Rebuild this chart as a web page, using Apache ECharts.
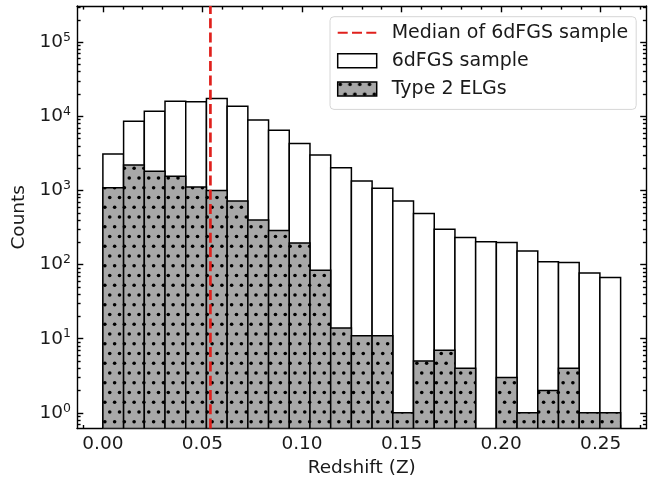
<!DOCTYPE html>
<html>
<head>
<meta charset="utf-8">
<script src="https://cdn.jsdelivr.net/npm/echarts@6/dist/echarts.min.js"></script>
<style>
  html, body { margin: 0; padding: 0; background: #fff; }
  #chart { width: 660px; height: 483px; }
</style>
</head>
<body>
<div id="chart"></div>
<script>
// ---- data ----
const BIN_EDGES = [0, 0.0104, 0.0208, 0.0312, 0.0416, 0.052, 0.0624, 0.0728, 0.0832, 0.0936,
  0.104, 0.1144, 0.1248, 0.1352, 0.1456, 0.156, 0.1664, 0.1768, 0.1872, 0.1976,
  0.208, 0.2184, 0.2288, 0.2392, 0.2496, 0.26];
const SAMPLE_COUNTS = [3100, 8600, 11700, 16000, 15700, 17400, 13700, 8900, 6500, 4300,
  3000, 2030, 1340, 1070, 720, 490, 300, 232, 204, 198, 153, 109, 107, 77, 67];
const ELG_COUNTS = [1090, 2200, 1820, 1560, 1110, 1000, 720, 400, 288, 196,
  84, 14, 11, 11, 1, 5, 7, 4, 0, 3, 1, 2, 4, 1, 1];
const MEDIAN_Z = 0.054;
const X_TICKS = [0, 0.05, 0.10, 0.15, 0.20, 0.25];
const X_TICK_LABELS = ['0.00', '0.05', '0.10', '0.15', '0.20', '0.25'];
const Y_TICK_EXPONENTS = [0, 1, 2, 3, 4, 5];
const SERIES_NAMES = ['Median of 6dFGS sample', '6dFGS sample', 'Type 2 ELGs'];

// ---- axis ranges ----
const XMIN = -0.013, XMAX = 0.273;
const YMIN = 0.613, YMAX = 3.08e5;
const LYMIN = Math.log10(YMIN), LYMAX = Math.log10(YMAX);

const X_MINOR = [];
for (let i = -1; i <= 27; i++) { if (i % 5 !== 0) X_MINOR.push(i / 100); }
const Y_MINOR = [];
for (let e = -1; e <= 5; e++) for (let k = 2; k <= 9; k++) {
  const v = Math.log10(k * Math.pow(10, e));
  if (v > LYMIN && v < LYMAX) Y_MINOR.push(v);
}

const FONT = 'DejaVu Sans';
const TXT = '#1a1a1a';
const RED = '#e0201c';
const GRAY = '#a8a8a8';

// dotted hatch pattern
const pat = document.createElement('canvas');
pat.width = 39; pat.height = 39;
(function () {
  const c = pat.getContext('2d');
  c.fillStyle = GRAY; c.fillRect(0, 0, 39, 39);
  c.fillStyle = '#000';
  const d = 9.75;
  for (let r = 0; r < 4; r++) for (let col = 0; col < 4; col++) {
    const x = col * d + (r % 2) * d / 2 + 2.5;
    const y = r * d + 2.5;
    c.beginPath(); c.arc(x, y, 1.8, 0, Math.PI * 2); c.fill();
  }
})();
const PATTERN = { image: pat, repeat: 'repeat' };

function binRows(counts) {
  return counts.map((c, i) => [BIN_EDGES[i], BIN_EDGES[i + 1], c]);
}
function makeRender(fill) {
  return function (params, api) {
    const c = api.value(2);
    if (!(c > 0)) return null;
    const p0 = api.coord([api.value(0), c]);
    const p1 = api.coord([api.value(1), YMIN]);
    return {
      type: 'rect',
      shape: { x: p0[0], y: p0[1], width: p1[0] - p0[0], height: p1[1] - p0[1] },
      style: { fill: fill, stroke: '#000', lineWidth: 1.5 }
    };
  };
}

const lineAx = { show: true, onZero: false, lineStyle: { color: '#000', width: 1.4 } };
const noLine = { show: false, onZero: false };
function tick(len, vals) {
  return { show: true, inside: true, length: len, customValues: vals, lineStyle: { color: '#000', width: 1.4 } };
}
const noLabel = { show: false };
const noSplit = { show: false };

const xBase = { type: 'value', min: XMIN, max: XMAX, splitLine: noSplit, silent: true };
const yLin = { type: 'value', min: LYMIN, max: LYMAX, splitLine: noSplit, silent: true };

const option = {
  animation: false,
  grid: { left: 77, right: 13.5, top: 6, bottom: 53, containLabel: false },
  xAxis: [
    Object.assign({}, xBase, {
      position: 'bottom', axisLine: lineAx, axisTick: tick(6.3, X_TICKS),
      axisLabel: {
        customValues: X_TICKS, margin: 6.5, fontSize: 18.5, fontFamily: FONT, color: TXT,
        formatter: v => X_TICK_LABELS[X_TICKS.findIndex(t => Math.abs(t - v) < 1e-6)]
      },
      name: 'Redshift (Z)', nameLocation: 'middle', nameGap: 30,
      nameTextStyle: { fontSize: 18.5, fontFamily: FONT, color: TXT }
    }),
    Object.assign({}, xBase, { position: 'bottom', axisLine: noLine, axisTick: tick(3.6, X_MINOR), axisLabel: noLabel }),
    Object.assign({}, xBase, { position: 'top', axisLine: lineAx, axisTick: tick(6.3, X_TICKS), axisLabel: noLabel }),
    Object.assign({}, xBase, { position: 'top', axisLine: noLine, axisTick: tick(3.6, X_MINOR), axisLabel: noLabel })
  ],
  yAxis: [
    { type: 'log', logBase: 10, min: YMIN, max: YMAX, show: false, splitLine: noSplit },
    Object.assign({}, yLin, {
      position: 'left', axisLine: lineAx, axisTick: tick(6.3, Y_TICK_EXPONENTS),
      axisLabel: {
        customValues: Y_TICK_EXPONENTS, margin: 6, color: TXT,
        formatter: v => '{b|10}{s|' + Math.round(v) + '}',
        rich: {
          b: { fontSize: 18.5, fontFamily: FONT, color: TXT, lineHeight: 22 },
          s: { fontSize: 12.5, fontFamily: FONT, color: TXT, lineHeight: 12, verticalAlign: 'top' }
        }
      },
      name: 'Counts', nameLocation: 'middle', nameGap: 42, nameRotate: 90,
      nameTextStyle: { fontSize: 18.5, fontFamily: FONT, color: TXT }
    }),
    Object.assign({}, yLin, { position: 'left', axisLine: noLine, axisTick: tick(3.6, Y_MINOR), axisLabel: noLabel }),
    Object.assign({}, yLin, { position: 'right', axisLine: lineAx, axisTick: tick(6.3, Y_TICK_EXPONENTS), axisLabel: noLabel }),
    Object.assign({}, yLin, { position: 'right', axisLine: noLine, axisTick: tick(3.6, Y_MINOR), axisLabel: noLabel })
  ],
  legend: {
    orient: 'vertical', left: 330, top: 16.7,
    padding: [6.5, 8, 11, 6.7],
    itemWidth: 39, itemHeight: 14, itemGap: 9.1,
    backgroundColor: 'rgba(255,255,255,0.85)', borderColor: '#d6d6d6', borderWidth: 1, borderRadius: 4,
    textStyle: { fontSize: 19, fontFamily: FONT, color: TXT, padding: [0, 0, 0, 10] },
    selectedMode: false,
    data: [
      { name: SERIES_NAMES[0], itemStyle: { color: 'rgba(0,0,0,0)', borderWidth: 0, opacity: 0 } },
      { name: SERIES_NAMES[1], icon: 'rect', itemStyle: { color: '#fff', borderColor: '#000', borderWidth: 1.5 } },
      { name: SERIES_NAMES[2], icon: 'rect', itemStyle: { color: PATTERN, borderColor: '#000', borderWidth: 1.5 } }
    ]
  },
  series: [
    {
      name: SERIES_NAMES[1], type: 'custom', xAxisIndex: 0, yAxisIndex: 0, clip: true, z: 2, silent: true,
      itemStyle: { color: '#fff', borderColor: '#000' },
      renderItem: makeRender('#fff'), encode: { x: [0, 1], y: 2 },
      data: binRows(SAMPLE_COUNTS)
    },
    {
      name: SERIES_NAMES[2], type: 'custom', xAxisIndex: 0, yAxisIndex: 0, clip: true, z: 3, silent: true,
      itemStyle: { color: PATTERN, borderColor: '#000' },
      renderItem: makeRender(PATTERN), encode: { x: [0, 1], y: 2 },
      data: binRows(ELG_COUNTS)
    },
    {
      name: SERIES_NAMES[0], type: 'line', xAxisIndex: 0, yAxisIndex: 0, z: 5, silent: true,
      symbol: 'none', clip: true,
      lineStyle: { color: RED, width: 2.7, type: [10, 4.3] },
      itemStyle: { color: RED },
      data: [[MEDIAN_Z, YMIN], [MEDIAN_Z, YMAX]]
    }
  ]
};

const chart = echarts.init(document.getElementById('chart'), null, { renderer: 'canvas' });
chart.setOption(option);
</script>
</body>
</html>
